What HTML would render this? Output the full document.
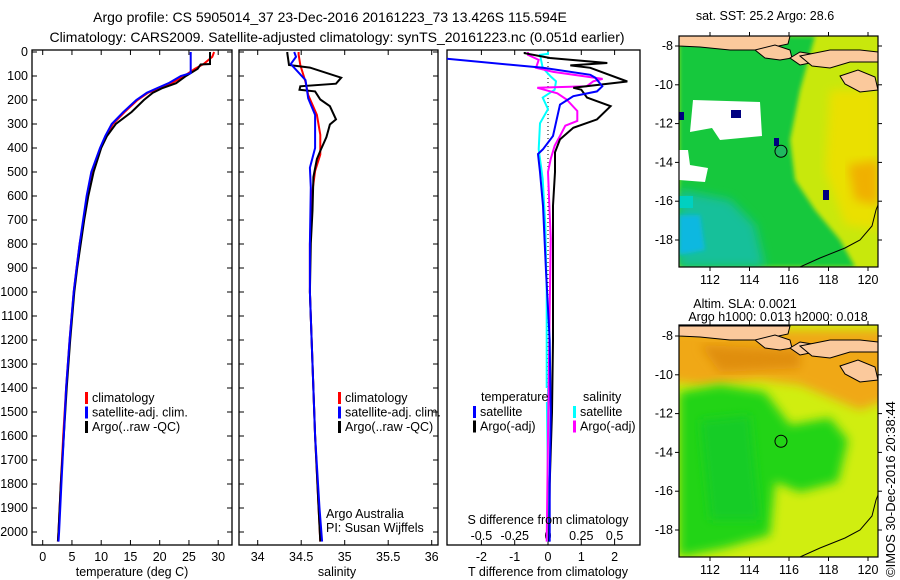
<!DOCTYPE html>
<html><head><meta charset="utf-8"><style>
body{margin:0;background:#fff;}
svg{display:block;font-family:"Liberation Sans",sans-serif;}
text{fill:#000;}
</style></head><body>
<svg id="fig" width="900" height="580" viewBox="0 0 900 580" xmlns="http://www.w3.org/2000/svg">
<defs>
<clipPath id="c1"><rect x="32" y="50" width="200" height="495"/></clipPath>
<clipPath id="c2"><rect x="239" y="50" width="199" height="495"/></clipPath>
<clipPath id="c3"><rect x="447" y="50" width="193" height="495"/></clipPath>
<clipPath id="cm1"><rect x="679" y="36" width="199" height="231"/></clipPath>
<clipPath id="cm2"><rect x="679" y="325" width="199" height="232"/></clipPath>
<filter id="blur4"><feGaussianBlur stdDeviation="5"/></filter>
<filter id="blur2"><feGaussianBlur stdDeviation="2"/></filter>
</defs>
<text x="330" y="22" font-size="14" text-anchor="middle">Argo profile: CS 5905014_37 23-Dec-2016 20161223_73 13.426S 115.594E</text>
<text x="337" y="42" font-size="14" text-anchor="middle">Climatology: CARS2009. Satellite-adjusted climatology: synTS_20161223.nc (0.051d earlier)</text>
<g id="p1"></g>
<g id="p2"></g>
<g id="p3"></g>
<g id="m1"></g>
<g id="m2"></g>
<text transform="translate(895,577) rotate(-90)" font-size="13">©IMOS 30-Dec-2016 20:38:44</text>
</svg>
<script>
// ---- data ----
const tempClimDepth=[0,20,50,70,100,130,150,170,200,250,300,350,400,500,600,700,800,900,1000,1200,1400,1600,1800,2000,2040];
const tempClim=[29.3,29,27.5,26,24.2,22,20,18,16.2,14,12,10.8,9.9,8.4,7.6,7,6.3,5.8,5.3,4.6,4,3.5,3.1,2.7,2.6];
const tempSatDepth=[0,88,100,130,150,170,200,250,300,350,400,500,600,700,800,900,1000,1200,1400,1600,1800,2000,2040];
const tempSat=[25.3,25.3,23.6,21.5,19.6,17.8,16,13.8,11.8,10.7,9.8,8.3,7.5,6.9,6.3,5.8,5.3,4.6,4,3.6,3.2,2.8,2.7];
const tempArgoDepth=[0,50,52,70,100,130,150,170,200,250,300,350,400,500,600,700,800,900,1000,1200,1400,1600,1800,2000,2040];
const tempArgo=[28.6,28.6,27,26.5,24.5,22.8,20.5,18.8,17.3,15.2,12.5,11,10,8.7,7.8,7.1,6.5,5.9,5.4,4.7,4.1,3.6,3.1,2.7,2.6];

const salClimDepth=[0,10,54,124,179,262,345,427,496,606,800,1000,1300,1600,1900,2040];
const salClim=[34.47,34.47,34.49,34.55,34.58,34.68,34.72,34.72,34.66,34.62,34.6,34.6,34.63,34.66,34.7,34.72];
const salSatDepth=[0,20,50,117,193,262,400,482,565,800,1000,1300,1600,1900,2040];
const salSat=[34.42,34.44,34.38,34.55,34.58,34.66,34.66,34.6,34.61,34.6,34.6,34.63,34.66,34.71,34.74];
const salArgoDepth=[0,5,54,65,107,132,143,157,164,198,226,281,302,355,412,446,521,660,797,1000,1300,1600,1900,2040];
const salArgo=[34.34,34.34,34.36,34.6,34.96,34.9,34.49,34.48,34.66,34.72,34.83,34.9,34.83,34.79,34.72,34.68,34.64,34.63,34.61,34.6,34.63,34.66,34.7,34.72];

const dTSatDepth=[0,26,66,95,107,143,164,184,219,281,350,405,425,500,640,913,1200,1500,1800,2040];
const dTSat=[-4,-3.2,-0.15,1.27,1.42,1.63,1.47,0.76,0.36,0.26,0.15,-0.15,-0.3,-0.24,-0.15,-0.06,0.05,0.08,0.05,0.05];
const dTArgoDepth=[0,5,25,46,56,66,123,149,157,190,226,281,316,364,418,500,640,913,1200,1500,1800,2040];
const dTArgo=[-0.7,-0.7,0.06,1.78,0.67,1.27,2.38,0.76,1.0,1.17,1.88,1.47,0.76,0.36,0.21,0.21,0.15,0.15,0.15,0.12,0.05,0.03];
const dSSatDepth=[0,8,12,66,102,122,157,190,238,297,405,529,722,1000,1400,1800,2040];
const dSSat=[0,0,-0.06,-0.04,0.02,0.06,0.05,-0.04,0,-0.06,-0.07,-0.04,-0.02,-0.01,-0.01,0,0];
const dSArgoDepth=[0,12,33,66,83,112,122,143,149,172,198,246,287,307,350,390,446,500,777,1200,1600,2040];
const dSArgo=[-0.15,-0.15,-0.07,-0.09,0.04,0.41,0.34,0.29,-0.08,0.07,0.14,0.22,0.22,0.13,0.09,0.05,0.02,0,0.02,0.01,0,-0.01];

const depthTicks=[0,100,200,300,400,500,600,700,800,900,1000,1100,1200,1300,1400,1500,1600,1700,1800,1900,2000];
const tempTicks=[0,5,10,15,20,25,30];
const salTicks=[34,34.5,35,35.5,36];
const salTickLabels=['34','34.5','35','35.5','36'];
const dTTicks=[-2,-1,0,1,2];
const dSTicks=[-0.5,-0.25,0,0.25,0.5];
const dSTickLabels=['-0.5','-0.25','0','0.25','0.5'];
const lonTicks=[112,114,116,118,120];
const latTicks=[-8,-10,-12,-14,-16,-18];
const argoLon=115.594, argoLat=-13.426;

// ---- scales ----
const yD=d=>52+0.24*d;
const xT=t=>42.7+5.85*t;
const xS=s=>257.7+87*(s-34);
const xDT=v=>548+33.3*v;
const xDS=v=>548+133.2*v;
const xLon=l=>710+19.75*(l-112);
const yLat1=l=>46+19.4*(-8-l);
const yLat2=l=>336+19.4*(-8-l);

const NS='http://www.w3.org/2000/svg';
function mk(tag,parent,attrs){const e=document.createElementNS(NS,tag);for(const k in attrs)e.setAttribute(k,attrs[k]);parent.appendChild(e);return e;}
function txt(parent,x,y,s,size,anchor){const t=mk('text',parent,{x:x,y:y,'font-size':size,'text-anchor':anchor||'start'});t.textContent=s;return t;}
function line(g,xs,ds,xf,color,w,clip,name){
  let p='';for(let i=0;i<xs.length;i++){p+=(i?'L':'M')+xf(xs[i]).toFixed(1)+','+yD(ds[i]).toFixed(1);}
  const e=mk('path',g,{d:p,fill:'none',stroke:color,'stroke-width':w,'clip-path':'url(#'+clip+')','stroke-linejoin':'miter'});
  
  
}
function frame(g,x,w){
  const r=mk('rect',g,{x:x,y:50,width:w,height:495,fill:'none',stroke:'#000','stroke-width':1.3});
  
  
  depthTicks.forEach(d=>{mk('line',g,{x1:x,x2:x+5,y1:yD(d),y2:yD(d),stroke:'#000'});mk('line',g,{x1:x+w-5,x2:x+w,y1:yD(d),y2:yD(d),stroke:'#000'});});
}
function legend(g,x,y,items){
  items.forEach((it,i)=>{
    mk('rect',g,{x:x,y:y+i*14.5-10,width:3,height:12,fill:it[1]});
    const t=txt(g,x+7,y+i*14.5,it[0],12.5);
    
    
  });
}

// ---- panel 1 ----
const p1=document.getElementById('p1');
frame(p1,32,200);
depthTicks.forEach(d=>{const t=txt(p1,28,yD(d)+4,String(d),12.5,'end');});
tempTicks.forEach(v=>{mk('line',p1,{x1:xT(v),x2:xT(v),y1:545,y2:540,stroke:'#000'});mk('line',p1,{x1:xT(v),x2:xT(v),y1:50,y2:55,stroke:'#000'});
  const t=txt(p1,xT(v),561,String(v),12.5,'middle');});
const xt1=txt(p1,132,576,'temperature (deg C)',12.5,'middle');


line(p1,tempClim,tempClimDepth,xT,'#f00',2,'c1','temp-climatology-line');
line(p1,tempArgo,tempArgoDepth,xT,'#000',2,'c1','temp-argo-line');
line(p1,tempSat,tempSatDepth,xT,'#00f',2,'c1','temp-satellite-line');
legend(p1,85,402,[['climatology','#f00'],['satellite-adj. clim.','#00f'],['Argo(..raw -QC)','#000']]);

// ---- panel 2 ----
const p2=document.getElementById('p2');
frame(p2,239,199);
salTicks.forEach((v,i)=>{mk('line',p2,{x1:xS(v),x2:xS(v),y1:545,y2:540,stroke:'#000'});mk('line',p2,{x1:xS(v),x2:xS(v),y1:50,y2:55,stroke:'#000'});
  const t=txt(p2,xS(v),561,salTickLabels[i],12.5,'middle');});
const xt2=txt(p2,337,576,'salinity',12.5,'middle');


line(p2,salClim,salClimDepth,xS,'#f00',2,'c2','sal-climatology-line');
line(p2,salArgo,salArgoDepth,xS,'#000',2,'c2','sal-argo-line');
line(p2,salSat,salSatDepth,xS,'#00f',2,'c2','sal-satellite-line');
legend(p2,338,402,[['climatology','#f00'],['satellite-adj. clim.','#00f'],['Argo(..raw -QC)','#000']]);
const pi1=txt(p2,326,518,'Argo Australia',12.5);


const pi2=txt(p2,326,532,'PI: Susan Wijffels',12.5);



// ---- panel 3 ----
const p3=document.getElementById('p3');
const fr=mk('rect',p3,{x:447,y:50,width:193,height:495,fill:'none',stroke:'#000','stroke-width':1.3});


dTTicks.forEach(v=>{mk('line',p3,{x1:xDT(v),x2:xDT(v),y1:545,y2:540,stroke:'#000'});mk('line',p3,{x1:xDT(v),x2:xDT(v),y1:50,y2:55,stroke:'#000'});
  const t=txt(p3,xDT(v),561,String(v),12.5,'middle');});
dSTicks.forEach((v,i)=>{const t=txt(p3,xDS(v),540,dSTickLabels[i],12.5,'middle');});
mk('line',p3,{x1:548,x2:548,y1:50,y2:545,stroke:'#000','stroke-dasharray':'1,3'});
line(p3,dSSat,dSSatDepth,xDS,'#0ff',2,'c3','s-diff-satellite-line');
line(p3,dSArgo,dSArgoDepth,xDS,'#f0f',2,'c3','s-diff-argo-line');
line(p3,dTArgo,dTArgoDepth,xDT,'#000',2,'c3','t-diff-argo-line');
line(p3,dTSat,dTSatDepth,xDT,'#00f',2,'c3','t-diff-satellite-line');
mk('rect',p3,{x:479,y:388,width:68,height:14,fill:'#fff'});
mk('rect',p3,{x:581,y:388,width:40,height:14,fill:'#fff'});
const l1=txt(p3,481,401,'temperature',12.5);
const l2=txt(p3,583,401,'salinity',12.5);
legend(p3,473,416,[['satellite','#00f'],['Argo(-adj)','#000']]);
legend(p3,573,416,[['satellite','#0ff'],['Argo(-adj)','#f0f']]);
const st=txt(p3,548,524,'S difference from climatology',12.5,'middle');


const tt=txt(p3,548,576,'T difference from climatology',12.5,'middle');



// ---- maps ----
function mapAxes(g,top,bot,yLat){
  const r=mk('rect',g,{x:679,y:top,width:199,height:bot-top,fill:'none',stroke:'#000','stroke-width':1.2});
  
  
  lonTicks.forEach(l=>{mk('line',g,{x1:xLon(l),x2:xLon(l),y1:bot,y2:bot+4,stroke:'#000'});mk('line',g,{x1:xLon(l),x2:xLon(l),y1:top,y2:top-4,stroke:'#000'});
    const t=txt(g,xLon(l),bot+17,String(l),12.5,'middle');});
  latTicks.forEach(l=>{mk('line',g,{x1:675,x2:679,y1:yLat(l),y2:yLat(l),stroke:'#000'});mk('line',g,{x1:878,x2:882,y1:yLat(l),y2:yLat(l),stroke:'#000'});
    const t=txt(g,673,yLat(l)+4,String(l),12.5,'end');});
}
function land(g,dy){
  const gg=mk('g',g,{fill:'#fbc99c',stroke:'#000','stroke-width':1});
  mk('path',gg,{d:`M679,${36+dy}L790,${36+dy}L788,${44+dy}L760,${50+dy}L730,${50+dy}L700,${47+dy}L679,${46+dy}Z`});
  mk('path',gg,{d:`M755,${50+dy}L775,${45+dy}L790,${50+dy}L792,${58+dy}L780,${60+dy}L765,${58+dy}Z`});
  mk('path',gg,{d:`M790,${58+dy}L800,${52+dy}L812,${54+dy}L815,${62+dy}L800,${65+dy}Z`});
  mk('path',gg,{d:`M800,${56+dy}L830,${50+dy}L860,${50+dy}L878,${52+dy}L878,${62+dy}L850,${62+dy}L830,${68+dy}L812,${66+dy}Z`});
  mk('path',gg,{d:`M840,${76+dy}L858,${70+dy}L875,${77+dy}L878,${90+dy}L860,${92+dy}L845,${84+dy}Z`});
  mk('path',g,{d:`M800,${267+dy}L820,${258+dy}L845,${248+dy}L860,${240+dy}L872,${226+dy}L876,${210+dy}L878,${205+dy}`,fill:'none',stroke:'#000','stroke-width':1});
}
const m1=document.getElementById('m1');
const t1=txt(m1,765,20,'sat. SST: 25.2 Argo: 28.6',12.5,'middle');


const mg1=mk('g',m1,{'clip-path':'url(#cm1)'});
mk('rect',mg1,{x:679,y:36,width:199,height:231,fill:'#c8e80c'});
mk('path',mg1,{d:'M679,36L815,36L800,90L790,140L795,180L815,210L840,240L855,267L679,267Z',fill:'#14c83c',filter:'url(#blur2)'});
mk('path',mg1,{d:'M679,190L730,200L755,225L765,267L679,267Z',fill:'#18c09a',filter:'url(#blur4)'});
mk('path',mg1,{d:'M679,215L700,215L705,250L679,255Z',fill:'#10b8e0',filter:'url(#blur2)'});
mk('path',mg1,{d:'M830,90L878,90L878,230L845,225L825,170Z',fill:'#eae000',filter:'url(#blur4)'});
mk('path',mg1,{d:'M848,165L878,160L878,205L855,200Z',fill:'#f0b000',filter:'url(#blur4)'});
mk('path',mg1,{d:'M693,100L760,102L762,136L720,140L712,128L690,132Z',fill:'#fff'});
mk('path',mg1,{d:'M679,150L688,150L690,165L708,168L705,182L679,180Z',fill:'#fff'});
mk('rect',mg1,{x:679,y:196,width:14,height:12,fill:'#00d0c0'});
mk('rect',mg1,{x:731,y:110,width:10,height:8,fill:'#000080'});
mk('rect',mg1,{x:679,y:112,width:5,height:8,fill:'#000080'});
mk('rect',mg1,{x:774,y:138,width:5,height:8,fill:'#000080'});
mk('rect',mg1,{x:823,y:190,width:6,height:10,fill:'#000080'});
land(mg1,0);
const c1=mk('circle',m1,{cx:xLon(argoLon),cy:yLat1(argoLat),r:6,fill:'#20b860',stroke:'#000','stroke-width':1});


mapAxes(m1,36,267,yLat1);

const m2=document.getElementById('m2');
const t2a=txt(m2,745,308,'Altim. SLA: 0.0021',12.5,'middle');


const t2b=txt(m2,778,321,'Argo h1000: 0.013 h2000: 0.018',12.5,'middle');


const mg2=mk('g',m2,{'clip-path':'url(#cm2)'});
mk('rect',mg2,{x:679,y:325,width:199,height:232,fill:'#d0ee10'});
mk('path',mg2,{d:'M660,330L900,330L900,395L860,410L800,385L760,380L700,385L660,380Z',fill:'#f0a818',filter:'url(#blur4)'});
mk('path',mg2,{d:'M700,345L800,350L800,368L720,372Z',fill:'#e08e10',filter:'url(#blur4)'});
mk('path',mg2,{d:'M679,392L720,385L765,392L790,425L830,418L848,440L838,482L800,492L775,482L770,535L725,548L679,557Z',fill:'#22d414',filter:'url(#blur4)'});
mk('path',mg2,{d:'M700,420L750,415L755,470L760,520L710,520Z',fill:'#18cc28',filter:'url(#blur4)'});
land(mg2,290);
const c2=mk('circle',m2,{cx:xLon(argoLon),cy:yLat2(argoLat),r:6,fill:'none',stroke:'#000','stroke-width':1});


mapAxes(m2,325,557,yLat2);
</script>
</body></html>
